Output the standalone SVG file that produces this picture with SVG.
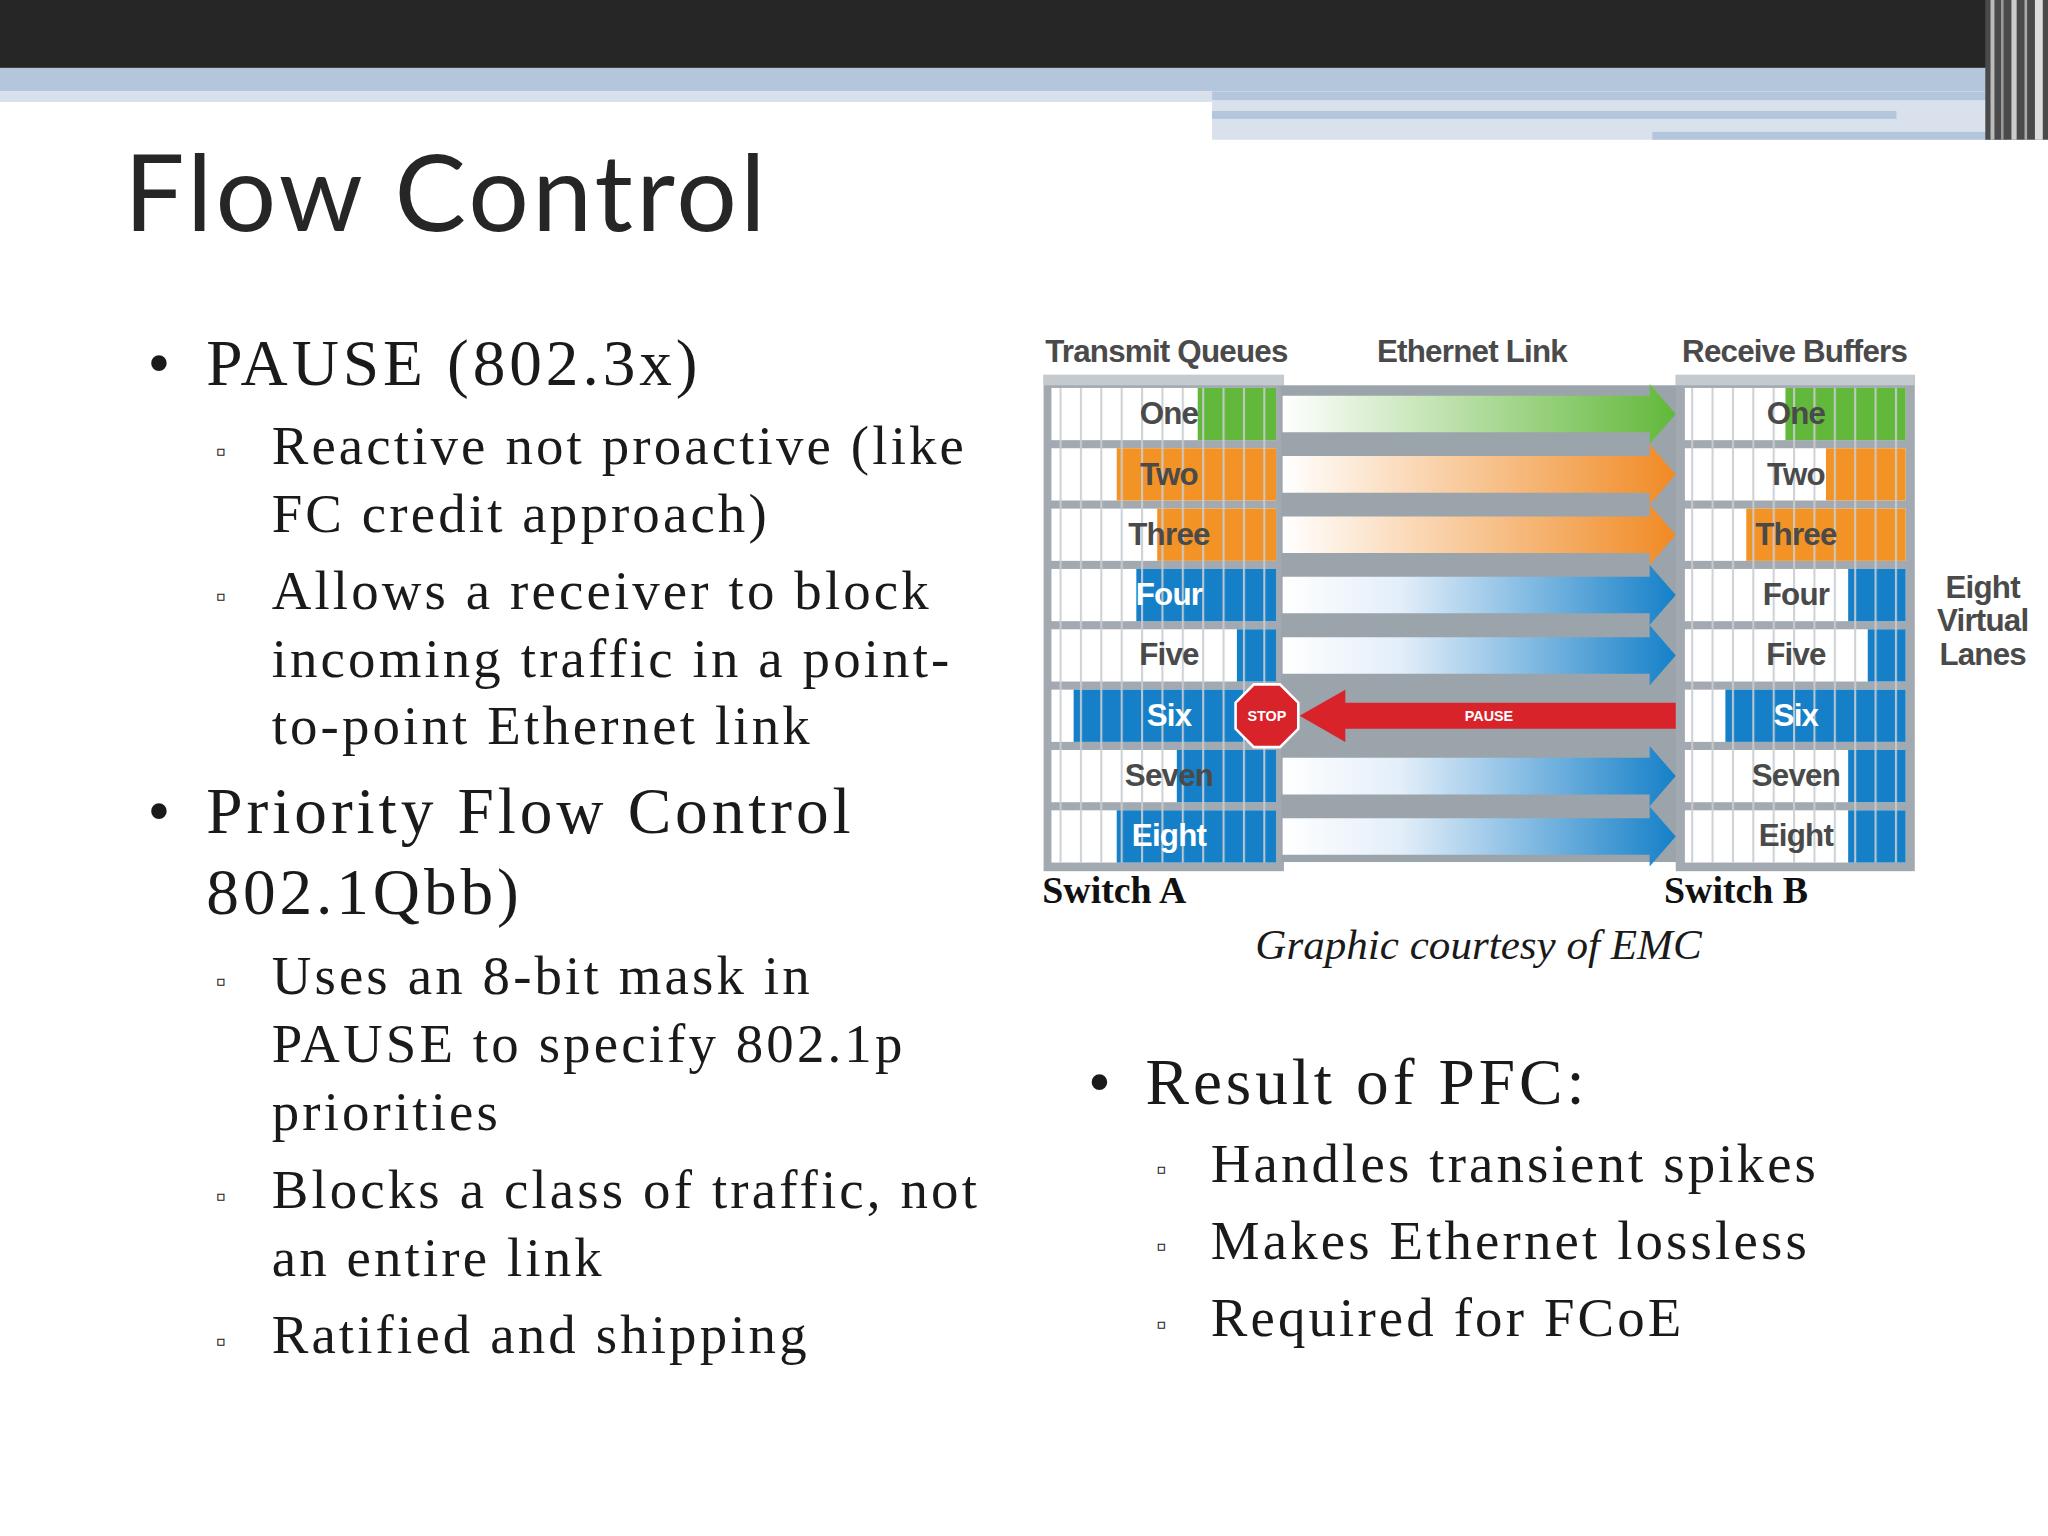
<svg xmlns="http://www.w3.org/2000/svg" width="2048" height="1536" viewBox="0 0 2048 1536">
<defs>
<style>
.ser{font-family:"Liberation Serif","Times New Roman",serif;fill:#1a1a1a}
.b1{font-size:50px;letter-spacing:3px}
.b2{font-size:42px;letter-spacing:2.4px}
.dg{font-family:"Liberation Sans",Arial,sans-serif;font-size:24px;font-weight:bold;fill:#4a4a4a;text-anchor:middle;letter-spacing:-0.6px}
.wt{fill:#ffffff}
</style>
<pattern id="stripe" x="0" y="0" width="15.6" height="10" patternUnits="userSpaceOnUse">
<rect x="0" y="0" width="1.6" height="10" fill="#c9cdd1"/>
</pattern>
<linearGradient id="gG" x1="0" x2="1"><stop offset="0" stop-color="#fff"/><stop offset="1" stop-color="#62b83a"/></linearGradient>
<linearGradient id="gO" x1="0" x2="1"><stop offset="0" stop-color="#fff"/><stop offset="1" stop-color="#f08a24"/></linearGradient>
<linearGradient id="gB" x1="0" x2="1"><stop offset="0" stop-color="#fff"/><stop offset="0.3" stop-color="#e3eef9"/><stop offset="1" stop-color="#1580c8"/></linearGradient>
<path id="arr" d="M0,-14 H281 V-23 L301,0 L281,23 V14 H0 Z"/>
</defs>
<rect width="2048" height="1536" fill="#ffffff"/>
<g transform="scale(1.30612)">
<g id="header">
<rect x="0" y="0" width="1568" height="52" fill="#262626"/>
<rect x="0" y="52" width="1568" height="18" fill="#b4c6dc"/>
<rect x="0" y="70" width="928" height="8" fill="#d8e0ec"/>
<rect x="928" y="70" width="600" height="7" fill="#b4c6dc"/>
<rect x="928" y="77" width="600" height="30" fill="#d8e1ec"/>
<rect x="928" y="85" width="524" height="6" fill="#b4c6dc"/>
<rect x="1265" y="101" width="272" height="6" fill="#b4c6dc"/>
<rect x="1520" y="0" width="48" height="107" fill="#4a4a4a"/>
<rect x="1524" y="0" width="3" height="107" fill="#bbbbbb"/>
<rect x="1532" y="0" width="2" height="107" fill="#999"/>
<rect x="1540" y="0" width="4" height="107" fill="#cccccc"/>
<rect x="1550" y="0" width="2" height="107" fill="#aaa"/>
<rect x="1558" y="0" width="6" height="107" fill="#dddddd"/>
</g>
<text id="title" x="95" y="177" style="font-family:Lato,'Open Sans',sans-serif;font-size:82px;fill:#262626;letter-spacing:2.5px">Flow Control</text>

<g id="left-text" class="ser">
<text class="ser b1" x="113" y="295">•</text><text class="ser b1" x="158" y="295">PAUSE (802.3x)</text>
<g class="ser b2">
<text x="165" y="353" style="font-size:22px">▫</text><text x="208" y="355">Reactive not proactive (like</text>
<text x="208" y="407">FC credit approach)</text>
<text x="165" y="464" style="font-size:22px">▫</text><text x="208" y="466">Allows a receiver to block</text>
<text x="208" y="518">incoming traffic in a point-</text>
<text x="208" y="570">to-point Ethernet link</text>
</g>
<text class="ser b1" x="113" y="638">•</text><text class="ser b1" x="158" y="638">Priority Flow Control</text>
<text class="ser b1" x="158" y="700">802.1Qbb)</text>
<g class="ser b2">
<text x="165" y="759" style="font-size:22px">▫</text><text x="208" y="761">Uses an 8-bit mask in</text>
<text x="208" y="813">PAUSE to specify 802.1p</text>
<text x="208" y="865">priorities</text>
<text x="165" y="923" style="font-size:22px">▫</text><text x="208" y="925">Blocks a class of traffic, not</text>
<text x="208" y="977">an entire link</text>
<text x="165" y="1034" style="font-size:22px">▫</text><text x="208" y="1036">Ratified and shipping</text>
</g>
</g>

<g id="right-text">
<text class="ser b1" x="833" y="845">•</text><text class="ser b1" x="877" y="845">Result of PFC:</text>
<g class="ser b2">
<text x="885" y="903" style="font-size:22px">▫</text><text x="927" y="905">Handles transient spikes</text>
<text x="885" y="962" style="font-size:22px">▫</text><text x="927" y="964">Makes Ethernet lossless</text>
<text x="885" y="1021" style="font-size:22px">▫</text><text x="927" y="1023">Required for FCoE</text>
</g>
<text x="1132" y="734" text-anchor="middle" style="font-family:'Liberation Serif',serif;font-style:italic;font-size:33px;fill:#1a1a1a">Graphic courtesy of EMC</text>
</g>

<g id="diagram">
<text class="dg" x="893" y="277">Transmit Queues</text>
<text class="dg" x="1127" y="277">Ethernet Link</text>
<text class="dg" x="1374" y="277">Receive Buffers</text>
<rect x="799" y="287" width="184" height="380" fill="#a2a9b0"/>
<rect x="981" y="295" width="304" height="365" fill="#9ba3ab"/>
<rect x="1283" y="287" width="183" height="380" fill="#a2a9b0"/>
<rect x="799" y="287" width="184" height="8" fill="#c5cacf"/>
<rect x="1283" y="287" width="183" height="8" fill="#c5cacf"/>

<g id="queues">
<rect x="805" y="297" width="172" height="40" fill="#fff"/><rect x="917" y="297" width="60" height="40" fill="#62b83a"/>
<rect x="805" y="343.2" width="172" height="40" fill="#fff"/><rect x="855" y="343.2" width="122" height="40" fill="#f39325"/>
<rect x="805" y="389.4" width="172" height="40" fill="#fff"/><rect x="886" y="389.4" width="91" height="40" fill="#f39325"/>
<rect x="805" y="435.6" width="172" height="40" fill="#fff"/><rect x="870" y="435.6" width="107" height="40" fill="#1580c8"/>
<rect x="805" y="481.8" width="172" height="40" fill="#fff"/><rect x="947" y="481.8" width="30" height="40" fill="#1580c8"/>
<rect x="805" y="528" width="172" height="40" fill="#fff"/><rect x="822" y="528" width="155" height="40" fill="#1580c8"/>
<rect x="805" y="574.2" width="172" height="40" fill="#fff"/><rect x="901" y="574.2" width="76" height="40" fill="#1580c8"/>
<rect x="805" y="620.4" width="172" height="40" fill="#fff"/><rect x="855" y="620.4" width="122" height="40" fill="#1580c8"/>
<rect x="805" y="297" width="172" height="363.4" fill="url(#stripe)" opacity="0.9"/>
</g>
<g id="buffers">
<rect x="1290" y="297" width="169" height="40" fill="#fff"/><rect x="1367" y="297" width="92" height="40" fill="#62b83a"/>
<rect x="1290" y="343.2" width="169" height="40" fill="#fff"/><rect x="1398" y="343.2" width="61" height="40" fill="#f39325"/>
<rect x="1290" y="389.4" width="169" height="40" fill="#fff"/><rect x="1337" y="389.4" width="122" height="40" fill="#f39325"/>
<rect x="1290" y="435.6" width="169" height="40" fill="#fff"/><rect x="1415" y="435.6" width="44" height="40" fill="#1580c8"/>
<rect x="1290" y="481.8" width="169" height="40" fill="#fff"/><rect x="1430" y="481.8" width="29" height="40" fill="#1580c8"/>
<rect x="1290" y="528" width="169" height="40" fill="#fff"/><rect x="1321" y="528" width="138" height="40" fill="#1580c8"/>
<rect x="1290" y="574.2" width="169" height="40" fill="#fff"/><rect x="1415" y="574.2" width="44" height="40" fill="#1580c8"/>
<rect x="1290" y="620.4" width="169" height="40" fill="#fff"/><rect x="1415" y="620.4" width="44" height="40" fill="#1580c8"/>
<rect x="1290" y="297" width="169" height="363.4" fill="url(#stripe)" opacity="0.9"/>
</g>

<g id="connectors">
<use href="#arr" x="982" y="317" fill="url(#gG)"/>
<use href="#arr" x="982" y="363.2" fill="url(#gO)"/>
<use href="#arr" x="982" y="409.4" fill="url(#gO)"/>
<use href="#arr" x="982" y="455.6" fill="url(#gB)"/>
<use href="#arr" x="982" y="501.8" fill="url(#gB)"/>
<use href="#arr" x="982" y="594.2" fill="url(#gB)"/>
<use href="#arr" x="982" y="640.4" fill="url(#gB)"/>
<path d="M1283,538 H1030 V528 L995,548 L1030,568 V558 H1283 Z" fill="#d9232b"/>
<text x="1140" y="552" text-anchor="middle" style="font-family:'Liberation Sans',Arial,sans-serif;font-size:11px;font-weight:bold;fill:#fff">PAUSE</text>
<polygon points="960,524 980,524 994,538 994,558 980,572 960,572 946,558 946,538" fill="#d9232b" stroke="#fff" stroke-width="2"/>
<text x="970" y="552" text-anchor="middle" style="font-family:'Liberation Sans',Arial,sans-serif;font-size:11px;font-weight:bold;fill:#fff">STOP</text>
</g>

<g id="labels">
<text class="dg" x="895" y="325">One</text>
<text class="dg" x="895" y="371">Two</text>
<text class="dg" x="895" y="417">Three</text>
<text class="dg wt" x="895" y="463">Four</text>
<text class="dg" x="895" y="509">Five</text>
<text class="dg wt" x="895" y="556">Six</text>
<text class="dg" x="895" y="602">Seven</text>
<text class="dg wt" x="895" y="648">Eight</text>
<text class="dg" x="1375" y="325">One</text>
<text class="dg" x="1375" y="371">Two</text>
<text class="dg" x="1375" y="417">Three</text>
<text class="dg" x="1375" y="463">Four</text>
<text class="dg" x="1375" y="509">Five</text>
<text class="dg wt" x="1375" y="556">Six</text>
<text class="dg" x="1375" y="602">Seven</text>
<text class="dg" x="1375" y="648">Eight</text>
<text class="dg" x="1518" y="458">Eight</text>
<text class="dg" x="1518" y="483">Virtual</text>
<text class="dg" x="1518" y="509">Lanes</text>
</g>
<text x="798" y="691" style="font-family:'Liberation Serif',serif;font-weight:bold;font-size:29px;fill:#111">Switch A</text>
<text x="1274" y="691" style="font-family:'Liberation Serif',serif;font-weight:bold;font-size:29px;fill:#111">Switch B</text>
</g>
</g>
</svg>
